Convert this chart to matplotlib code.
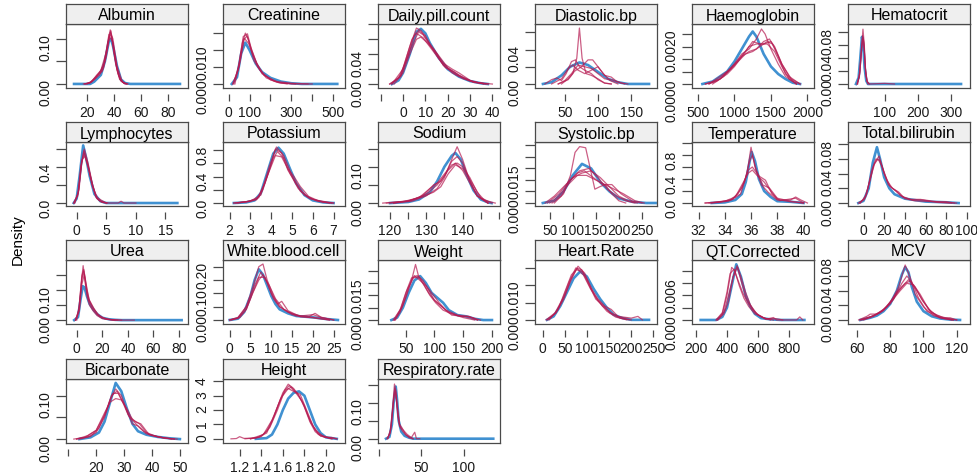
import matplotlib
matplotlib.use("Agg")
from matplotlib import pyplot as plt

plt.rcParams['font.family'] = ['Liberation Sans', 'DejaVu Sans']

albumin_obs = [(10,0),(22,0),(25,0.005),(30,0.02),(33,0.05),(36,0.095),(37.5,0.10),(39,0.085),(42,0.04),(45,0.01),(48,0.002),(52,0),(89,0)]
albumin_imp = [
    [(18,0),(22,0.003),(26,0.015),(29,0.025),(32,0.04),(35,0.09),(37,0.12),(39,0.09),(42,0.03),(45,0.006),(49,0)],
    [(19,0),(23,0.005),(27,0.02),(30,0.03),(33,0.05),(36,0.11),(38,0.105),(41,0.05),(44,0.01),(48,0)],
    [(20,0),(25,0.01),(29,0.02),(32,0.035),(35,0.08),(37,0.115),(39,0.1),(42,0.04),(46,0.004),(50,0)],
    [(17,0),(22,0.002),(26,0.012),(30,0.03),(34,0.07),(36.5,0.105),(38.5,0.095),(41,0.045),(44,0.012),(47,0.002),(50,0)],
    [(18,0),(23,0.004),(27,0.018),(31,0.028),(34,0.06),(36,0.1),(37.5,0.118),(40,0.07),(43,0.02),(47,0.002),(49,0)],
]

creatinine_obs = [(15,0),(40,0.002),(60,0.009),(80,0.0122),(100,0.010),(130,0.006),(160,0.0035),(200,0.0018),(250,0.0007),(300,0.0002),(350,0),(520,0)]
creatinine_imp = [
    [(20,0),(45,0.004),(65,0.012),(80,0.015),(95,0.013),(120,0.007),(150,0.004),(200,0.0012),(250,0.0003),(300,0),(400,0)],
    [(25,0),(50,0.006),(70,0.014),(90,0.0148),(110,0.01),(140,0.005),(180,0.0018),(230,0.0005),(280,0)],
    [(20,0),(50,0.005),(75,0.0135),(95,0.012),(120,0.008),(160,0.003),(220,0.0008),(300,0.0002),(380,0)],
    [(30,0),(55,0.007),(72,0.013),(88,0.0142),(105,0.011),(135,0.006),(170,0.0025),(240,0.0004),(320,0)],
]

pill_obs = [(-5,0),(-2,0.005),(0,0.015),(3,0.04),(6,0.07),(8,0.074),(10,0.068),(12,0.055),(14,0.045),(16,0.035),(20,0.02),(25,0.01),(30,0.004),(35,0.001),(38,0)]
pill_imp = [
    [(-6,0),(-2,0.008),(2,0.035),(5,0.065),(7,0.072),(10,0.065),(13,0.048),(17,0.03),(22,0.015),(27,0.007),(33,0.002),(40,0)],
    [(-5,0),(0,0.02),(4,0.06),(6,0.068),(9,0.062),(12,0.05),(15,0.038),(19,0.022),(23,0.016),(27,0.008),(32,0.002),(38,0)],
    [(-4,0),(0,0.015),(3,0.04),(6,0.06),(8,0.063),(11,0.055),(14,0.045),(18,0.028),(22,0.02),(25,0.015),(30,0.005),(36,0)],
    [(-5,0),(-1,0.012),(3,0.05),(6,0.075),(8,0.072),(11,0.058),(14,0.046),(18,0.025),(24,0.012),(30,0.004),(37,0)],
    [(-6,0),(-1,0.01),(3,0.045),(7,0.07),(9,0.066),(12,0.052),(15,0.042),(20,0.022),(25,0.012),(31,0.003),(38,0)],
]

diastolic_obs = [(17,0),(30,0.002),(45,0.01),(58,0.02),(72,0.025),(85,0.022),(100,0.014),(115,0.006),(130,0.002),(145,0),(177,0)]
diastolic_imp = [
    [(40,0),(55,0.005),(62,0.012),(68,0.03),(72,0.065),(76,0.03),(82,0.012),(90,0.01),(100,0.006),(110,0.001),(120,0)],
    [(20,0),(30,0.005),(38,0.007),(45,0.004),(52,0.012),(60,0.026),(66,0.028),(72,0.02),(80,0.016),(90,0.012),(100,0.005),(110,0.001),(120,0)],
    [(45,0),(55,0.006),(65,0.015),(75,0.02),(85,0.028),(92,0.028),(100,0.02),(110,0.01),(120,0.008),(128,0.003),(140,0)],
    [(30,0),(45,0.006),(55,0.018),(62,0.022),(70,0.016),(80,0.012),(90,0.016),(100,0.02),(108,0.012),(118,0.004),(130,0)],
    [(40,0),(50,0.004),(60,0.012),(70,0.022),(80,0.02),(90,0.018),(100,0.012),(110,0.006),(120,0.005),(135,0.001),(145,0)],
]

haemo_obs = [(560,0),(700,0.0001),(800,0.0003),(900,0.0005),(1000,0.0009),(1100,0.0014),(1200,0.0019),(1250,0.0021),(1300,0.0019),(1400,0.0012),(1500,0.0007),(1600,0.0004),(1700,0.0002),(1800,0.00005),(1900,0)]
haemo_imp = [
    [(650,0),(800,0.0002),(900,0.0005),(1000,0.0008),(1100,0.0012),(1200,0.0014),(1300,0.0018),(1370,0.0022),(1420,0.0020),(1500,0.0014),(1600,0.0008),(1700,0.0003),(1850,0)],
    [(600,0),(750,0.0001),(900,0.0004),(1000,0.0007),(1100,0.0011),(1200,0.0015),(1300,0.0016),(1400,0.0016),(1500,0.0017),(1550,0.0015),(1650,0.0008),(1750,0.0003),(1900,0)],
    [(650,0),(800,0.0003),(950,0.0006),(1050,0.0009),(1150,0.0012),(1250,0.0013),(1350,0.0015),(1450,0.0017),(1520,0.0016),(1600,0.0011),(1700,0.0004),(1850,0)],
    [(700,0),(850,0.0003),(1000,0.0008),(1150,0.0013),(1250,0.0017),(1350,0.0016),(1450,0.0016),(1550,0.0013),(1650,0.0007),(1750,0.0002),(1850,0)],
    [(600,0),(800,0.0002),(950,0.0006),(1100,0.0011),(1200,0.0013),(1300,0.0014),(1400,0.0017),(1480,0.0018),(1560,0.0014),(1650,0.0008),(1780,0.0002),(1900,0)],
]

hemat_obs = [(14,0),(22,0.01),(27,0.04),(32,0.073),(36,0.06),(40,0.025),(45,0.005),(50,0),(330,0)]
hemat_imp = [
    [(18,0),(25,0.015),(30,0.05),(35,0.085),(39,0.06),(43,0.02),(48,0.003),(55,0),(100,0.001),(130,0)],
    [(17,0),(24,0.012),(29,0.045),(34,0.075),(38,0.065),(42,0.025),(47,0.004),(54,0)],
    [(19,0),(26,0.02),(31,0.055),(35,0.07),(39,0.05),(44,0.012),(50,0)],
]

lymph_obs = [(-0.5,0),(0,0.05),(0.5,0.3),(1.1,0.64),(1.6,0.5),(2.2,0.3),(3,0.1),(4,0.02),(5,0),(17,0)]
lymph_imp = [
    [(-0.5,0),(0.2,0.1),(0.7,0.4),(1.2,0.58),(1.8,0.45),(2.5,0.25),(3.2,0.08),(3.8,0.03),(4.5,0.005),(5.5,0),(7,0),(7.5,0.02),(8,0),(10,0)],
    [(-0.4,0),(0.3,0.12),(0.8,0.45),(1.3,0.55),(1.9,0.42),(2.6,0.2),(3.3,0.06),(4,0.02),(5,0)],
    [(-0.5,0),(0.2,0.08),(0.8,0.42),(1.3,0.6),(1.9,0.45),(2.7,0.2),(3.4,0.05),(4.2,0.01),(5.2,0)],
    [(-0.3,0),(0.4,0.15),(0.9,0.48),(1.4,0.52),(2,0.38),(2.7,0.18),(3.5,0.06),(4.2,0.03),(5,0)],
]

potassium_obs = [(2.2,0),(2.8,0.01),(3.2,0.04),(3.5,0.15),(3.8,0.45),(4.1,0.75),(4.35,0.84),(4.6,0.75),(4.9,0.52),(5.2,0.3),(5.6,0.12),(6,0.04),(6.5,0.01),(7,0)]
potassium_imp = [
    [(2.2,0),(2.8,0.02),(3.3,0.06),(3.6,0.2),(3.9,0.5),(4.2,0.82),(4.5,0.76),(4.8,0.5),(5.2,0.3),(5.6,0.12),(6.2,0.03),(6.8,0)],
    [(2.3,0),(3,0.03),(3.4,0.08),(3.8,0.4),(4.2,0.72),(4.5,0.7),(4.8,0.52),(5.1,0.4),(5.4,0.25),(5.8,0.1),(6.3,0.03),(6.9,0)],
    [(2.2,0),(2.9,0.02),(3.3,0.05),(3.7,0.3),(4.1,0.68),(4.3,0.78),(4.6,0.68),(4.9,0.45),(5.3,0.22),(5.8,0.08),(6.5,0.01),(7,0)],
    [(2.4,0),(3,0.03),(3.5,0.12),(3.9,0.55),(4.25,0.85),(4.6,0.72),(5,0.42),(5.4,0.18),(5.9,0.06),(6.6,0.02),(7,0)],
]

sodium_obs = [(120,0),(125,0.003),(128,0.01),(131,0.03),(133,0.06),(135,0.1),(137,0.13),(138,0.138),(139.5,0.12),(141,0.08),(143,0.035),(145,0.01),(147,0.002),(148,0)]
sodium_imp = [
    [(121,0),(126,0.005),(130,0.02),(133,0.04),(135,0.07),(137,0.12),(138.5,0.155),(140,0.12),(142,0.06),(144,0.02),(147,0)],
    [(118,0),(124,0.005),(128,0.015),(131,0.04),(133,0.055),(135,0.08),(137,0.105),(138.5,0.11),(140,0.1),(142,0.07),(144,0.03),(146,0.008),(149,0)],
    [(120,0),(125,0.005),(129,0.02),(132,0.05),(134,0.06),(136,0.09),(138,0.11),(140,0.09),(142,0.055),(144,0.02),(147,0)],
    [(121,0),(126,0.008),(130,0.025),(133,0.05),(135,0.075),(137,0.115),(138.5,0.128),(140,0.11),(142,0.06),(144,0.02),(147,0)],
    [(119,0),(125,0.006),(129,0.018),(132,0.03),(134,0.045),(136,0.08),(138,0.105),(140,0.095),(142,0.065),(145,0.015),(148,0)],
]

systolic_obs = [(35,0),(60,0.001),(80,0.005),(100,0.012),(120,0.017),(140,0.015),(160,0.009),(180,0.005),(200,0.002),(230,0.0005),(260,0),(280,0)]
systolic_imp = [
    [(60,0),(80,0.004),(95,0.012),(105,0.022),(115,0.0245),(128,0.024),(138,0.015),(148,0.006),(158,0.007),(170,0.008),(185,0.004),(200,0.001),(215,0)],
    [(40,0),(60,0.003),(80,0.007),(100,0.011),(120,0.013),(140,0.014),(160,0.011),(180,0.007),(200,0.003),(220,0.001),(240,0)],
    [(50,0),(70,0.003),(90,0.008),(110,0.012),(130,0.012),(150,0.01),(170,0.008),(190,0.006),(210,0.004),(235,0.001),(255,0)],
    [(45,0),(70,0.004),(90,0.009),(110,0.013),(125,0.014),(145,0.011),(165,0.008),(185,0.008),(205,0.004),(230,0.0008),(250,0)],
    [(55,0),(75,0.003),(95,0.01),(115,0.014),(135,0.015),(155,0.011),(175,0.006),(195,0.003),(215,0.001),(235,0)],
]

temp_obs = [(33,0),(34,0.01),(34.8,0.05),(35.3,0.15),(35.6,0.35),(35.9,0.7),(36.05,0.85),(36.3,0.7),(36.6,0.4),(37,0.2),(37.5,0.1),(38,0.03),(39,0.02),(40,0)]
temp_imp = [
    [(32.5,0),(33.5,0.02),(34.5,0.05),(35.2,0.15),(35.7,0.5),(36,0.93),(36.3,0.6),(36.8,0.3),(37.3,0.18),(38,0.05),(39,0.05),(39.4,0.1),(39.8,0.05),(40.3,0)],
    [(32.8,0),(34,0.03),(34.8,0.1),(35.3,0.3),(35.8,0.5),(36.1,0.55),(36.5,0.45),(37,0.35),(37.5,0.2),(38,0.06),(39,0.02),(40,0)],
    [(33,0),(34.3,0.03),(35,0.15),(35.5,0.35),(35.9,0.7),(36.1,0.8),(36.4,0.55),(36.9,0.3),(37.4,0.25),(38,0.08),(39,0.03),(40,0)],
    [(32.5,0),(33.5,0.01),(34.6,0.06),(35.3,0.25),(35.8,0.55),(36.1,0.6),(36.6,0.45),(37.1,0.38),(37.6,0.15),(38.2,0.04),(39.4,0.08),(40,0)],
]

bili_obs = [(-5,0),(0,0.003),(5,0.02),(9,0.055),(13,0.076),(16,0.06),(20,0.035),(25,0.02),(30,0.012),(40,0.006),(50,0.004),(60,0.002),(80,0.001),(92,0)]
bili_imp = [
    [(-4,0),(2,0.008),(7,0.035),(11,0.055),(15,0.064),(19,0.045),(24,0.025),(30,0.018),(36,0.01),(45,0.005),(55,0.005),(60,0.004),(75,0.001),(90,0)],
    [(-5,0),(1,0.005),(6,0.03),(10,0.052),(14,0.06),(18,0.05),(23,0.03),(28,0.02),(34,0.015),(40,0.006),(50,0.003),(65,0.002),(80,0.002),(88,0)],
    [(-3,0),(3,0.012),(8,0.045),(12,0.06),(16,0.058),(20,0.04),(26,0.022),(32,0.016),(38,0.008),(48,0.004),(58,0.004),(70,0.001),(85,0)],
]

urea_obs = [(-2,0),(1,0.01),(3,0.07),(4.7,0.114),(6,0.11),(8,0.08),(10,0.055),(13,0.035),(16,0.02),(20,0.008),(25,0.003),(30,0.001),(35,0),(82,0)]
urea_imp = [
    [(-1,0),(1.5,0.03),(3.5,0.12),(5,0.183),(6.5,0.13),(8,0.08),(10,0.05),(13,0.03),(16,0.015),(20,0.005),(28,0),(45,0)],
    [(-1,0),(2,0.04),(4,0.14),(5.5,0.165),(7,0.12),(9,0.07),(12,0.04),(15,0.025),(18,0.012),(24,0.003),(32,0)],
    [(0,0),(2,0.05),(4,0.15),(5.5,0.17),(7,0.13),(9.5,0.07),(12,0.05),(16,0.02),(20,0.008),(26,0.002),(35,0)],
    [(-1,0),(2,0.03),(4,0.12),(6,0.155),(8,0.1),(10,0.065),(13,0.04),(17,0.018),(22,0.004),(30,0)],
]

wbc_obs = [(0,0),(2,0.005),(3.5,0.03),(5,0.09),(6,0.15),(7,0.19),(8,0.17),(9,0.13),(10,0.09),(11,0.06),(12,0.04),(14,0.025),(16,0.015),(20,0.01),(23,0.004),(26,0)]
wbc_imp = [
    [(0,0),(2,0.008),(4,0.05),(5.5,0.12),(7,0.2),(8,0.21),(9,0.15),(10.5,0.09),(12,0.05),(14,0.03),(17,0.015),(20,0.02),(22,0.01),(25,0)],
    [(0.5,0),(2.5,0.01),(4,0.04),(5.5,0.1),(7,0.16),(8.5,0.16),(10,0.1),(11.5,0.06),(12.5,0.07),(14,0.035),(17,0.012),(20,0.01),(24,0)],
    [(0,0),(2,0.01),(4,0.05),(6,0.13),(7.5,0.18),(9,0.14),(10.5,0.08),(12,0.05),(15,0.02),(19,0.012),(20.5,0.025),(22,0.01),(25,0)],
    [(0,0),(2,0.006),(4,0.04),(5.5,0.1),(7,0.15),(8,0.17),(9.5,0.13),(11,0.08),(13,0.04),(16,0.015),(20,0.008),(24,0)],
]

weight_obs = [(25,0),(35,0.001),(45,0.005),(55,0.011),(65,0.016),(75,0.0178),(85,0.015),(95,0.011),(105,0.009),(115,0.007),(125,0.004),(140,0.002),(155,0.0015),(170,0.0005),(185,0),(200,0)]
weight_imp = [
    [(30,0),(40,0.003),(50,0.009),(60,0.016),(67,0.0225),(72,0.018),(80,0.015),(90,0.011),(100,0.008),(115,0.005),(130,0.002),(150,0.0015),(165,0.001),(180,0)],
    [(28,0),(40,0.004),(50,0.011),(60,0.017),(70,0.018),(80,0.016),(90,0.012),(100,0.008),(110,0.006),(125,0.003),(145,0.0015),(160,0.0015),(175,0)],
    [(30,0),(42,0.005),(52,0.012),(62,0.017),(72,0.0175),(82,0.014),(92,0.01),(102,0.007),(115,0.004),(130,0.0025),(150,0.001),(170,0)],
    [(32,0),(45,0.006),(55,0.013),(65,0.018),(75,0.016),(85,0.014),(95,0.011),(108,0.007),(120,0.004),(140,0.002),(158,0.0015),(175,0)],
]

heart_obs = [(10,0),(25,0.001),(40,0.004),(55,0.008),(70,0.012),(85,0.014),(100,0.0125),(115,0.009),(130,0.006),(145,0.0035),(160,0.0015),(180,0.0005),(200,0),(240,0)]
heart_imp = [
    [(10,0),(30,0.002),(50,0.007),(65,0.012),(80,0.0155),(95,0.0135),(110,0.009),(125,0.006),(140,0.004),(155,0.003),(170,0.001),(200,0.0005),(215,0.001),(225,0)],
    [(15,0),(35,0.003),(50,0.008),(65,0.013),(78,0.0148),(92,0.013),(108,0.009),(125,0.0055),(145,0.0025),(165,0.0008),(190,0)],
    [(12,0),(30,0.002),(48,0.006),(62,0.011),(76,0.0145),(90,0.014),(105,0.01),(120,0.006),(138,0.004),(152,0.002),(170,0.001),(195,0)],
    [(8,0),(28,0.002),(45,0.006),(60,0.011),(75,0.015),(88,0.0145),(103,0.011),(118,0.007),(135,0.004),(155,0.002),(175,0.0005),(200,0)],
]

qt_obs = [(230,0),(330,0),(370,0.0005),(400,0.002),(430,0.0055),(460,0.009),(490,0.007),(520,0.004),(550,0.0022),(580,0.001),(620,0.0003),(680,0.0001),(750,0),(900,0)]
qt_imp = [
    [(330,0),(370,0.001),(400,0.004),(430,0.0085),(450,0.008),(480,0.0055),(510,0.0035),(540,0.0022),(580,0.001),(620,0.0006),(650,0.0001),(700,0.0004),(720,0),(850,0),(870,0.0005),(890,0)],
    [(340,0),(380,0.001),(410,0.003),(440,0.007),(465,0.0088),(490,0.007),(520,0.0045),(550,0.0025),(590,0.001),(640,0.0003),(700,0)],
    [(330,0),(370,0.0012),(400,0.0045),(420,0.0075),(445,0.0082),(470,0.0065),(500,0.0045),(530,0.003),(570,0.0015),(620,0.0005),(680,0)],
    [(340,0),(380,0.0013),(410,0.004),(440,0.007),(468,0.0085),(495,0.006),(525,0.0035),(560,0.002),(600,0.0008),(650,0.0002),(720,0.0002),(760,0)],
]

mcv_obs = [(62,0),(68,0.003),(72,0.006),(76,0.012),(80,0.022),(84,0.04),(87,0.062),(89,0.072),(91,0.065),(93,0.045),(96,0.025),(100,0.012),(105,0.005),(110,0.002),(116,0.0005),(122,0)]
mcv_imp = [
    [(62,0),(68,0.004),(74,0.01),(80,0.022),(85,0.045),(89,0.075),(92,0.058),(95,0.035),(100,0.018),(106,0.006),(112,0.002),(118,0)],
    [(61,0),(66,0.005),(68,0.008),(72,0.008),(78,0.018),(84,0.038),(89,0.05),(92,0.053),(96,0.04),(100,0.025),(105,0.01),(112,0.003),(116,0.003),(120,0)],
    [(63,0),(70,0.006),(76,0.014),(82,0.03),(87,0.045),(91,0.055),(95,0.045),(99,0.028),(104,0.012),(110,0.003),(118,0)],
    [(62,0),(69,0.005),(75,0.012),(81,0.026),(86,0.04),(90,0.05),(94,0.048),(98,0.035),(103,0.015),(108,0.006),(115,0.002),(120,0)],
    [(64,0),(70,0.005),(76,0.013),(82,0.028),(87,0.05),(90,0.06),(93,0.052),(97,0.03),(102,0.012),(110,0.003),(117,0)],
]

bicarb_obs = [(14,0),(18,0.004),(21,0.015),(23,0.04),(25,0.085),(27,0.129),(29,0.11),(31,0.07),(33,0.035),(35,0.018),(38,0.01),(42,0.005),(46,0.002),(50,0)]
bicarb_imp = [
    [(13,0),(17,0.005),(20,0.015),(23,0.05),(25,0.09),(27,0.115),(29,0.1),(31,0.065),(33,0.035),(35,0.03),(37,0.018),(40,0.008),(44,0.003),(48,0)],
    [(12,0),(16,0.004),(20,0.02),(23,0.06),(25,0.085),(27,0.093),(29,0.09),(31,0.07),(33,0.045),(35.5,0.035),(38,0.015),(42,0.005),(47,0)],
    [(14,0),(18,0.006),(21,0.025),(24,0.07),(26,0.105),(28,0.105),(30,0.08),(32,0.05),(35,0.03),(38,0.012),(43,0.004),(48,0)],
    [(13,0),(17,0.008),(20,0.02),(23,0.055),(25.5,0.1),(27.5,0.11),(29.5,0.085),(31.5,0.055),(34,0.04),(36,0.035),(39,0.01),(45,0.002),(49,0)],
]

height_obs = [(1.35,0),(1.45,0.05),(1.5,0.3),(1.55,1.0),(1.6,2.0),(1.65,2.8),(1.7,3.2),(1.75,3.3),(1.8,3.0),(1.85,2.0),(1.9,1.0),(1.95,0.4),(2.0,0.1),(2.05,0.05),(2.1,0)]
height_imp = [
    [(1.12,0),(1.17,0.02),(1.2,0.15),(1.24,0.03),(1.35,0.05),(1.45,0.4),(1.5,1.2),(1.55,2.2),(1.6,3.2),(1.65,3.8),(1.7,3.5),(1.75,3.0),(1.8,2.2),(1.85,1.2),(1.9,0.5),(1.95,0.2),(2.0,0.1),(2.05,0.1),(2.1,0)],
    [(1.3,0),(1.4,0.15),(1.48,0.8),(1.55,2.0),(1.6,3.0),(1.65,3.5),(1.7,3.3),(1.76,3.1),(1.82,2.0),(1.88,0.9),(1.95,0.2),(2.05,0)],
    [(1.25,0),(1.38,0.1),(1.45,0.5),(1.52,1.6),(1.58,2.8),(1.63,3.4),(1.68,3.6),(1.74,3.1),(1.8,2.3),(1.86,1.1),(1.93,0.3),(2.02,0.1),(2.1,0)],
    [(1.3,0),(1.42,0.3),(1.5,1.3),(1.56,2.4),(1.62,3.4),(1.66,3.7),(1.72,3.2),(1.78,2.6),(1.84,1.5),(1.9,0.6),(1.98,0.15),(2.06,0)],
]

resp_obs = [(8,0),(12,0.005),(15,0.04),(17,0.1),(19.5,0.145),(21,0.11),(23,0.05),(26,0.02),(30,0.008),(35,0.003),(40,0),(135,0)]
resp_imp = [
    [(10,0),(13,0.02),(16,0.09),(18,0.152),(20,0.13),(22,0.06),(25,0.03),(28,0.02),(32,0.01),(36,0.004),(40,0)],
    [(9,0),(13,0.015),(16,0.08),(18.5,0.14),(21,0.1),(24,0.035),(28,0.025),(33,0.012),(38,0.003),(42,0.018),(44,0),(48,0)],
    [(10,0),(14,0.03),(17,0.11),(19,0.135),(21,0.09),(24,0.04),(27,0.03),(31,0.012),(36,0.002),(40,0)],
]

names = ["Albumin", "Creatinine", "Daily.pill.count", "Diastolic.bp", "Haemoglobin", "Hematocrit",
         "Lymphocytes", "Potassium", "Sodium", "Systolic.bp", "Temperature", "Total.bilirubin",
         "Urea", "White.blood.cell", "Weight", "Heart.Rate", "QT.Corrected", "MCV",
         "Bicarbonate", "Height", "Respiratory.rate"]
observed = [albumin_obs, creatinine_obs, pill_obs, diastolic_obs, haemo_obs, hemat_obs,
            lymph_obs, potassium_obs, sodium_obs, systolic_obs, temp_obs, bili_obs,
            urea_obs, wbc_obs, weight_obs, heart_obs, qt_obs, mcv_obs,
            bicarb_obs, height_obs, resp_obs]
imputed = [albumin_imp, creatinine_imp, pill_imp, diastolic_imp, haemo_imp, hemat_imp,
           lymph_imp, potassium_imp, sodium_imp, systolic_imp, temp_imp, bili_imp,
           urea_imp, wbc_imp, weight_imp, heart_imp, qt_imp, mcv_imp,
           bicarb_imp, height_imp, resp_imp]

# tick values and labels per panel
x_ticks = [[20,40,60,80], [0,100,200,300,400,500], [-10,0,10,20,30,40], [50,100,150], [500,1000,1500,2000], [100,200,300],
           [0,5,10,15], [2,3,4,5,6,7], [120,125,130,135,140,145,150], [50,100,150,200,250], [32,34,36,38,40], [0,20,40,60,80,100],
           [0,20,40,60,80], [0,5,10,15,20,25], [50,100,150,200], [0,50,100,150,200,250], [200,400,600,800], [60,80,100,120],
           [10,20,30,40,50], [1.2,1.4,1.6,1.8,2.0], [0,50,100]]
x_labels = [None, ["0","100","","300","","500"], ["","0","10","20","30","40"], None, None, None,
            None, None, ["120","","130","","140","",""], None, None, None,
            None, None, None, None, None, None,
            ["","20","30","40","50"], ["1.2","1.4","1.6","1.8","2.0"], ["","50","100"]]
y_ticks = [[0,0.05,0.10], [0,0.005,0.010,0.015], [0,0.02,0.04,0.06,0.08], [0,0.02,0.04,0.06], [0,0.0005,0.001,0.0015,0.002], [0,0.02,0.04,0.06,0.08],
           [0,0.2,0.4,0.6], [0,0.2,0.4,0.6,0.8], [0,0.05,0.10,0.15], [0,0.005,0.01,0.015,0.02,0.025], [0,0.2,0.4,0.6,0.8,1.0], [0,0.02,0.04,0.06,0.08],
           [0,0.05,0.10,0.15], [0,0.05,0.10,0.15,0.20], [0,0.005,0.01,0.015,0.02], [0,0.005,0.01,0.015], [0,0.002,0.004,0.006,0.008], [0,0.02,0.04,0.06,0.08],
           [0,0.05,0.10], [0,1,2,3,4], [0,0.05,0.10,0.15]]
y_labels = [["0.00","","0.10"], ["0.000","","0.010",""], ["0.00","","0.04","",""], ["0.00","","0.04",""], ["0.0000","","","","0.0020"], ["0.00","","0.04","","0.08"],
            ["0.0","","0.4",""], ["0.0","","0.4","","0.8"], ["0.00","","0.10",""], ["0.000","","","0.015","",""], ["0.0","","0.4","","0.8",""], ["0.00","","0.04","","0.08"],
            ["0.00","","0.10",""], ["0.00","","0.10","","0.20"], ["0.000","","","0.015",""], ["0.000","","0.010",""], ["0.000","","","0.006",""], ["0.00","","0.04","","0.08"],
            ["0.00","","0.10"], ["0","1","2","3","4"], ["0.00","","0.10",""]]
x_limits = [(4,95), (-27,557), (-11.2,43.4), (5,189), (417,2091), (-10,357),
            (-1.8,18.8), (1.68,7.55), (116.7,150.3), (18,283), (31.5,40.8), (-15,103),
            (-8.4,87), (-1.6,27.7), (1.7,214), (-17,258), (174,962), (54.6,128),
            (9.2,52.9), (1.046,2.176), (-1.5,143)]
y_limits = [(-0.009,0.133), (-0.0012,0.0177), (-0.0053,0.0805), (-0.0047,0.0697), (-0.00016,0.0024), (-0.0062,0.093),
            (-0.033,0.678), (-0.045,0.926), (-0.008,0.168), (-0.0013,0.0265), (-0.05,1.017), (-0.004,0.0831),
            (-0.013,0.202), (-0.015,0.225), (-0.0016,0.0243), (-0.0012,0.0173), (-0.00065,0.0097), (-0.0055,0.0818),
            (-0.009,0.138), (-0.29,4.16), (-0.012,0.166)]

W, H = 977, 477
col_left = [66, 223, 378, 535, 692, 848]
row_top = [5, 123, 241, 360]
pw, strip_h, box_h = 122, 20, 64
edge = "#4a4a4a"
blue = "#006CC2"
red = "#B61A51"

fig = plt.figure(figsize=(W / 100, H / 100), dpi=100)

for i, name in enumerate(names):
    r, c = divmod(i, 6)
    L, T = col_left[c], row_top[r]
    ax = fig.add_axes([L / W, 1 - (T + strip_h + box_h) / H, pw / W, box_h / H])
    st = fig.add_axes([L / W, 1 - (T + strip_h) / H, pw / W, strip_h / H])
    st.set_facecolor("#efefef")
    st.set_xticks([]); st.set_yticks([])
    for s in st.spines.values():
        s.set_color(edge); s.set_linewidth(0.9)
    st.text(0.5, 0.45, name, ha="center", va="center", fontsize=11.5, transform=st.transAxes)

    ox, oy = zip(*observed[i])
    ax.plot(ox, oy, color=blue, alpha=0.75, lw=1.9)
    for curve in imputed[i]:
        ix, iy = zip(*curve)
        ax.plot(ix, iy, color=red, alpha=0.7, lw=0.9)

    ax.set_xlim(*x_limits[i]); ax.set_ylim(*y_limits[i])
    ax.set_xticks(x_ticks[i])
    if x_labels[i] is not None:
        ax.set_xticklabels(x_labels[i])
    else:
        ax.set_xticklabels([("%g" % v) for v in x_ticks[i]])
    ax.set_yticks(y_ticks[i]); ax.set_yticklabels(y_labels[i])
    ax.tick_params(axis="both", colors=edge, labelcolor="#1a1a1a", labelsize=10, length=5, width=0.9, pad=3)
    ax.tick_params(axis="y", labelrotation=90, length=7)
    for s in ax.spines.values():
        s.set_color(edge); s.set_linewidth(0.9)
    ax.spines["bottom"].set_position(("outward", 4))
    ax.spines["bottom"].set_visible(False)
    ax.plot([0, 1], [0, 0], transform=ax.transAxes, color=edge, lw=0.9, clip_on=False)

fig.text(18 / W, 1 - 240 / H, "Density", rotation=90, ha="center", va="center", fontsize=11)

plt.savefig("out.png", dpi=100)
